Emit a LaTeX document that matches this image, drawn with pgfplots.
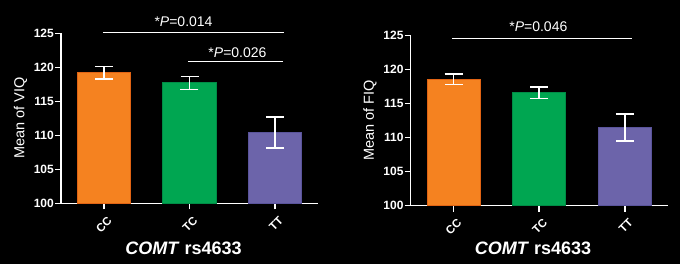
\documentclass[border=0pt]{standalone}
\usepackage{fontspec}
\setmainfont{Liberation Sans}
\usepackage{pgfplots}
\pgfplotsset{compat=1.18}
\definecolor{cOr}{RGB}{245,130,32}
\definecolor{cOrD}{RGB}{225,100,20}
\definecolor{cGr}{RGB}{0,166,81}
\definecolor{cGrD}{RGB}{0,140,70}
\definecolor{cPu}{RGB}{108,100,170}
\definecolor{cPuD}{RGB}{90,84,155}
\pgfplotsset{
  mystyle/.style={
    scale only axis, width=257pt, height=170pt,
    xmin=-0.5, xmax=2.5, ymin=100, ymax=125, enlargelimits=false,
    axis x line*=bottom, axis y line*=left,
    xtick={0,1,2}, xticklabels={CC,TC,TT},
    ytick={100,105,...,125},
    tick align=outside, major tick length=6pt,
    axis line style={white, line width=1.5pt},
    every tick/.style={white, line width=1.5pt},
    /pgf/number format/assume math mode=true,
    yticklabel style={white, font=\fontsize{12}{12}\selectfont\bfseries, inner sep=1pt},
    xticklabel style={white, font=\fontsize{11.5}{11.5}\selectfont\bfseries, xshift=3pt, yshift=-6pt, rotate=45, anchor=north east, inner sep=0pt},
    ylabel style={white, font=\fontsize{14.5}{14.5}\selectfont, at={(axis description cs:-0.158,0.5)}, anchor=center},
    xlabel style={white, font=\fontsize{18}{18}\selectfont\bfseries, anchor=center},
    xlabel={\textit{COMT} rs4633},
    ybar, bar width=53pt, bar shift=0pt,
    error bars/y dir=both, error bars/y explicit,
    error bars/error bar style={white, line width=1.5pt},
    error bars/error mark options={white, line width=1.5pt, mark size=9pt, rotate=90},
  }
}
\begin{document}
\begin{tikzpicture}
\fill[black] (0,0) rectangle (680pt,264pt);
\useasboundingbox (0,0) rectangle (680pt,264pt);
% Left panel
\begin{axis}[mystyle, at={(61pt,60.7pt)}, anchor=south west,
  ylabel={Mean of VIQ},
  xlabel style={at={(axis description cs:0.477,-0.267)}}]
\addplot[fill=cOr, draw=cOrD, line width=1pt] coordinates {(0,119.2) +- (0,0.9)};
\addplot[fill=cGr, draw=cGrD, line width=1pt] coordinates {(1,117.7) +- (0,0.95)};
\addplot[fill=cPu, draw=cPuD, line width=1pt] coordinates {(2,110.4) +- (0,2.3)};
\coordinate (A1) at (axis cs:-0.01,125.1);
\coordinate (A2) at (axis cs:2.10,125.1);
\coordinate (B1) at (axis cs:0.98,120.8);
\coordinate (B2) at (axis cs:2.09,120.8);
\coordinate (TA) at (axis cs:0.93,126.7);
\coordinate (TB) at (axis cs:1.56,122.1);
\end{axis}
\draw[white, line width=1.2pt] (A1) -- (A2);
\draw[white, line width=1.2pt] (B1) -- (B2);
\node[white, font=\fontsize{14}{14}\selectfont] at (TA) {*\textit{P}=0.014};
\node[white, font=\fontsize{14}{14}\selectfont] at (TB) {*\textit{P}=0.026};
% Right panel
\begin{axis}[mystyle, at={(410.7pt,58.3pt)}, anchor=south west,
  ylabel={Mean of FIQ},
  xlabel style={at={(axis description cs:0.476,-0.25)}}]
\addplot[fill=cOr, draw=cOrD, line width=1pt] coordinates {(0,118.6) +- (0,0.75)};
\addplot[fill=cGr, draw=cGrD, line width=1pt] coordinates {(1,116.6) +- (0,0.85)};
\addplot[fill=cPu, draw=cPuD, line width=1pt] coordinates {(2,111.5) +- (0,2.0)};
\coordinate (C1) at (axis cs:-0.015,124.6);
\coordinate (C2) at (axis cs:2.08,124.6);
\coordinate (TC) at (axis cs:0.99,126.3);
\end{axis}
\draw[white, line width=1.2pt] (C1) -- (C2);
\node[white, font=\fontsize{14}{14}\selectfont] at (TC) {*\textit{P}=0.046};
\end{tikzpicture}
\end{document}
